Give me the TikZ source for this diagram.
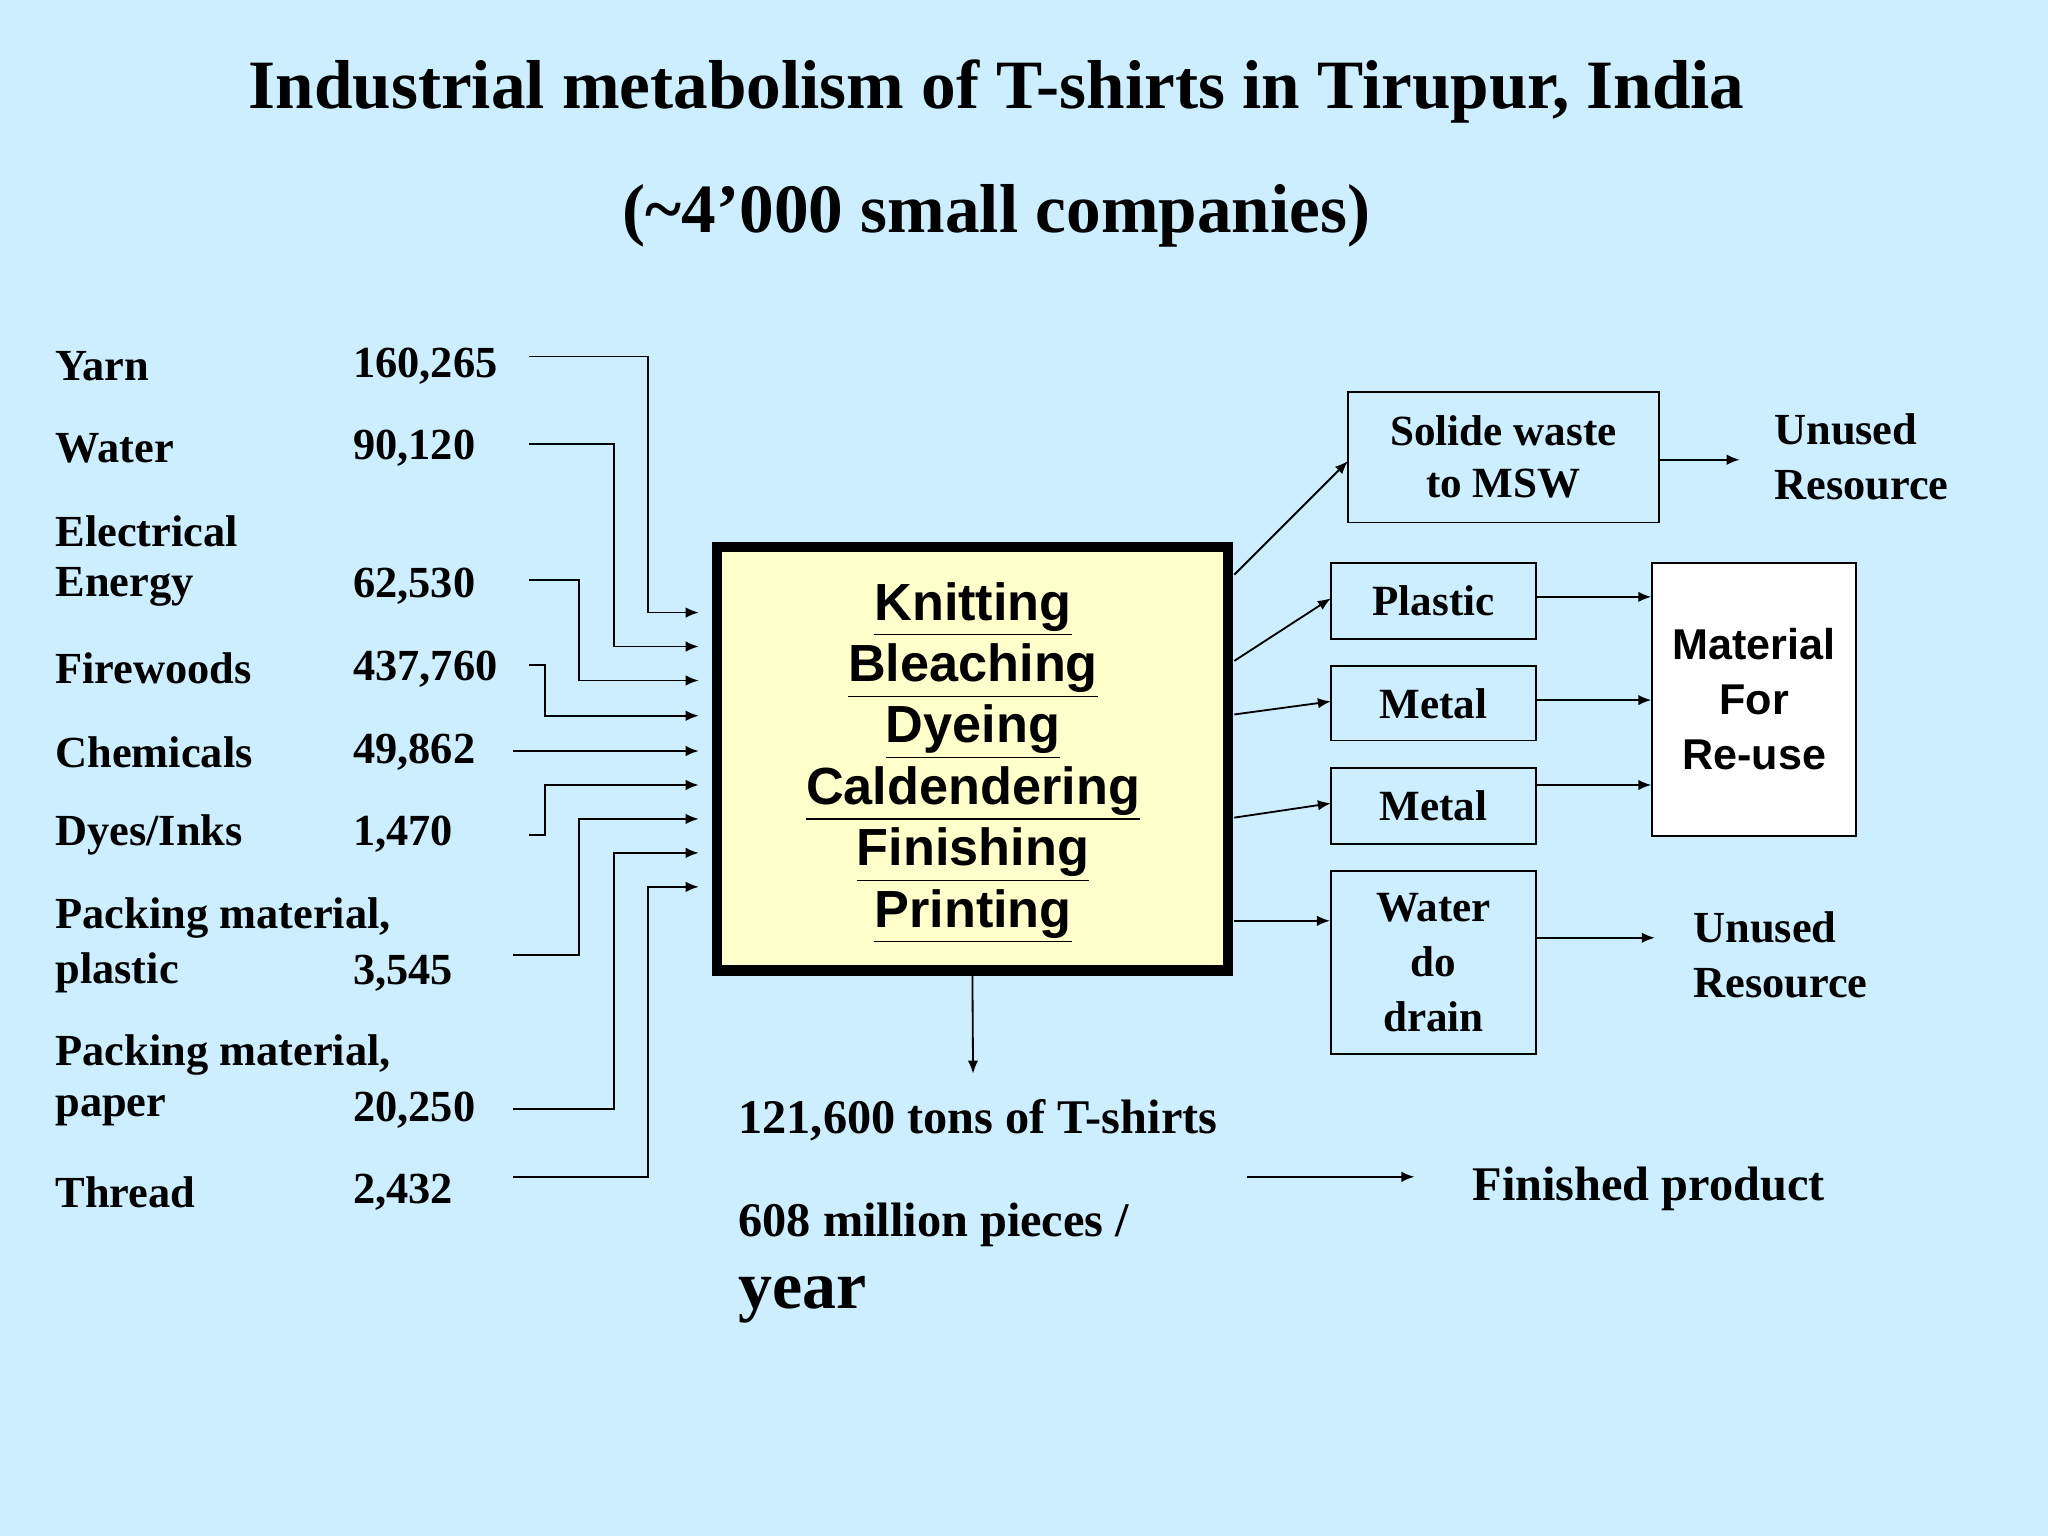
\documentclass[tikz,border=0pt]{standalone}
\usepackage{fontspec}
\setmainfont{Liberation Serif}
\newfontfamily\arialf{Liberation Sans}
\usetikzlibrary{arrows.meta}
\definecolor{bgc}{HTML}{CCEEFF}
\definecolor{boxy}{HTML}{FFFFCC}
\begin{document}
\begin{tikzpicture}[x=0.5pt,y=-0.5pt,
  lab/.style={anchor=west,font=\fontsize{17}{19}\selectfont\bfseries,inner sep=0},
  num/.style={anchor=west,font=\fontsize{17}{19}\selectfont\bfseries,inner sep=0},
  big/.style={anchor=west,font=\fontsize{18.5}{20}\selectfont\bfseries,inner sep=0},
  arr/.style={-{Latex[length=5pt,width=4pt]},line width=0.7pt},
  sbox/.style={draw,line width=0.7pt,align=center,font=\fontsize{16.5}{20}\selectfont\bfseries,inner sep=0}]
\fill[bgc] (0,0) rectangle (1568,1176);
\useasboundingbox (0,0) rectangle (1568,1176);
\node[font=\fontsize{26.5}{28}\selectfont\bfseries] (t1) at (763,70) {Industrial metabolism of T-shirts in Tirupur, India};
\node[font=\fontsize{26.5}{28}\selectfont\bfseries] (t2) at (763,165) {(\char"007E 4’000 small companies)};
% left labels
\node[lab] (l1) at (42,280) {Yarn}; \node[num] (n1) at (270,280) {160,265};
\node[lab] (l2) at (42,343) {Water}; \node[num] (n2) at (270,343) {90,120};
\node[lab] (l3a) at (42,407) {Electrical}; \node[lab] (l3) at (42,449) {Energy}; \node[num] (n3) at (270,449) {62,530};
\node[lab] (l4) at (42,512) {Firewoods}; \node[num] (n4) at (270,512) {437,760};
\node[lab] (l5) at (42,576) {Chemicals}; \node[num] (n5) at (270,576) {49,862};
\node[lab] (l6) at (42,639) {Dyes/Inks}; \node[num] (n6) at (270,639) {1,470};
\node[lab] (l7a) at (42,703) {Packing material,}; \node[lab] (l7) at (42,745) {plastic}; \node[num] (n7) at (270,745) {3,545};
\node[lab] (l8a) at (42,808) {Packing material,}; \node[lab] (l8) at (42,850) {paper}; \node[num] (n8) at (270,850) {20,250};
\node[lab] (l9) at (42,913) {Thread}; \node[num] (n9) at (270,913) {2,432};
% main box
\node[draw,line width=4pt,fill=boxy,minimum width=195.5pt,minimum height=162pt,inner sep=0] (main) at (744.5,581) {};
\node[align=center,font=\arialf\fontsize{20}{23.5}\selectfont\bfseries] (mt) at (745,584)
 {\underline{Knitting}\\\underline{Bleaching}\\\underline{Dyeing}\\\underline{Caldendering}\\\underline{Finishing}\\\underline{Printing}};
\coordinate (mw) at (535,575);
% inputs
\coordinate (s1) at (405,273); \coordinate (s2) at (405,340); \coordinate (s3) at (405,444);
\coordinate (s4) at (405,509); \coordinate (s5) at (393,575); \coordinate (s6) at (405,639);
\coordinate (s7) at (393,731); \coordinate (s8) at (393,849); \coordinate (s9) at (393,901);
\draw[arr] (s1) -| (496,469) -- (535,469);
\draw[arr] (s2) -| (470,495) -- (535,495);
\draw[arr] (s3) -| (443,521) -- (535,521);
\draw[arr] (s4) -| (417,548) -- (535,548);
\draw[arr] (s5) -- (mw);
\draw[arr] (s6) -| (417,601) -- (535,601);
\draw[arr] (s7) -| (443,627) -- (535,627);
\draw[arr] (s8) -| (470,653) -- (535,653);
\draw[arr] (s9) -| (496,679) -- (535,679);
% output
\coordinate (ob) at (745,822);
\draw[arr] (main.south) -- (ob);
\node[big] (o1) at (565,858) {121,600 tons of T-shirts};
\node[big] (o2) at (565,938) {608 million pieces /};
\node[lab,font=\fontsize{26}{28}\selectfont\bfseries] (o3) at (565,995) {year};
\coordinate (fa) at (955,901); \coordinate (fb) at (1083,901);
\draw[arr] (fa) -- (fb);
\node[big] (fp) at (1127,910) {Finished product};
% right boxes
\node[sbox,minimum width=119pt,minimum height=50pt] (sw) at (1151,350) {Solide waste\\to MSW};
\node[sbox,minimum width=78.5pt,minimum height=29pt] (pl) at (1097.5,460) {Plastic};
\node[sbox,minimum width=78.5pt,minimum height=28.5pt] (m1) at (1097.5,538.5) {Metal};
\node[sbox,minimum width=78.5pt,minimum height=29pt] (m2) at (1097.5,617) {Metal};
\node[sbox,minimum width=78.5pt,minimum height=70pt,font=\fontsize{16.5}{21}\selectfont\bfseries] (wd) at (1097.5,737) {Water\\do\\drain};
\node[sbox,fill=white,minimum width=78pt,minimum height=104.5pt,font=\arialf\fontsize{16.5}{21}\selectfont\bfseries] (mr) at (1343,535.5) {Material\\For\\Re-use};
\node[lab,align=left,font=\fontsize{17}{21}\selectfont\bfseries] (u1) at (1358,350) {Unused\\Resource};
\node[lab,align=left,font=\fontsize{17}{21}\selectfont\bfseries] (u2) at (1296,731) {Unused\\Resource};
\coordinate (e1) at (945,440); \coordinate (e2) at (945,506); \coordinate (e3) at (945,547);
\coordinate (e4) at (945,626); \coordinate (e5) at (945,705);
\draw[arr] (e1) -- (1032,353);
\draw[arr] (e2) -- (1019,458);
\draw[arr] (e3) -- (1019,537);
\draw[arr] (e4) -- (1019,615);
\draw[arr] (e5) -- (wd.west |- e5);
\draw[arr] (sw.east |- 0,352) -- (1332,352);
\draw[arr] (pl.east |- 0,457) -- (mr.west |- 0,457);
\draw[arr] (m1.east |- 0,536) -- (mr.west |- 0,536);
\draw[arr] (m2.east |- 0,601) -- (mr.west |- 0,601);
\draw[arr] (wd.east |- 0,718) -- (1267,718);
\end{tikzpicture}
\end{document}
